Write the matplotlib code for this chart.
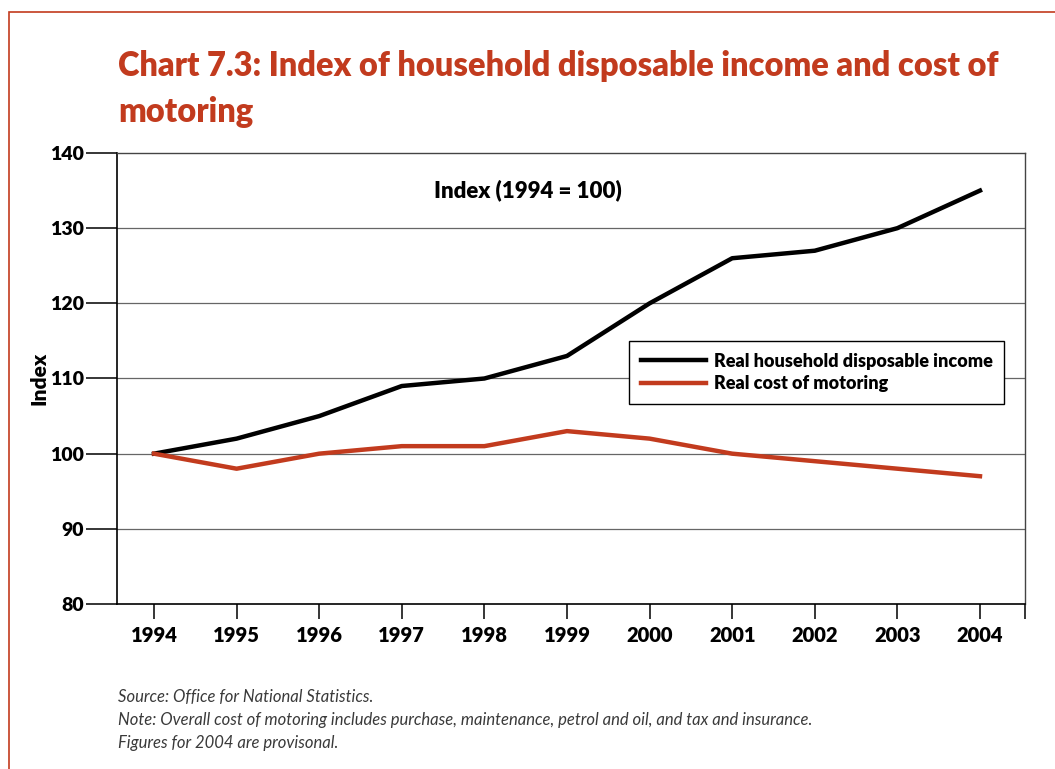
import matplotlib
matplotlib.use("Agg")
import matplotlib.pyplot as plt
from matplotlib.patches import Rectangle

years = ["1994", "1995", "1996", "1997", "1998", "1999", "2000", "2001", "2002", "2003", "2004"]
income = [100, 102, 105, 109, 110, 113, 120, 126, 127, 130, 135]
motoring = [100, 98, 100, 101, 101, 103, 102, 100, 99, 98, 97]
y_ticks = [80, 90, 100, 110, 120, 130, 140]

RED = "#C23B1E"
FONT = ["Lato", "DejaVu Sans"]
plt.rcParams["font.family"] = FONT
HEAVY = "heavy"

fig = plt.figure(figsize=(10.55, 7.69), dpi=100)

# page frame (only top and left edges fall inside the canvas)
fig.patches.append(Rectangle((9 / 1055, -0.1), 1.2, 1 - 12 / 769 + 0.1,
                             transform=fig.transFigure, fill=False,
                             edgecolor=RED, linewidth=1.2))

fig.text(118 / 1055, 1 - 89 / 769, "Chart 7.3: Index of household disposable income and cost of\nmotoring",
         color=RED, fontsize=23.5, fontweight=HEAVY, ha="left", va="center",
         linespacing=1.5)

ax = fig.add_axes([117 / 1055, 1 - 604 / 769, (1025 - 117) / 1055, (604 - 153) / 769])
x = list(range(len(years)))
ax.set_xlim(-0.448, 10.545)
ax.set_ylim(80, 140)

for v in y_ticks[1:-1]:
    ax.axhline(v, color="#666666", linewidth=0.9, zorder=1)

ax.plot(x, income, color="black", linewidth=3.2, label="Real household disposable income", zorder=3)
ax.plot(x, motoring, color=RED, linewidth=3.2, label="Real cost of motoring", zorder=3)

ax.set_yticks(y_ticks)
ax.set_yticklabels([str(v) for v in y_ticks], fontsize=14, fontweight=HEAVY)
ax.set_xticks(x)
ax.set_xticklabels(years, fontsize=14.5, fontweight=HEAVY)
ax.set_xticks([10.545], minor=True)
ax.tick_params(axis="x", which="minor", length=11, width=1.1, color="black")
ax.tick_params(axis="y", length=22, width=1.1, pad=2, color="black")
ax.tick_params(axis="x", which="major", length=11, width=1.1, pad=5, color="black")

for side in ["left", "bottom"]:
    ax.spines[side].set_linewidth(1.2)
for side in ["top", "right"]:
    ax.spines[side].set_linewidth(1.0)
    ax.spines[side].set_color("#444444")

ax.set_ylabel("Index", fontsize=15, fontweight=HEAVY)
ax.yaxis.set_label_coords((49 - 117) / 908, 0.5)

ax.text(0.452, 0.917, "Index (1994 = 100)", transform=ax.transAxes,
        fontsize=16, fontweight=HEAVY, ha="center", va="center")

leg = ax.legend(loc="upper left", bbox_to_anchor=((629 - 117) / 908, (604 - 341) / 451),
                frameon=True, fancybox=False, edgecolor="black", framealpha=1,
                prop={"family": FONT, "weight": HEAVY, "size": 13},
                handlelength=3.6, handletextpad=0.45, borderpad=0.65,
                labelspacing=0.3, borderaxespad=0)
leg.get_frame().set_linewidth(1.0)

notes = ["Source: Office for National Statistics.",
         "Note: Overall cost of motoring includes purchase, maintenance, petrol and oil, and tax and insurance.",
         "Figures for 2004 are provisonal."]
for i, line in enumerate(notes):
    fig.text(118 / 1055, 1 - (697 + 23 * i) / 769, line, fontsize=12, style="italic",
             color="#3a3a3a", ha="left", va="center")

fig.savefig("out.png", dpi=100)
